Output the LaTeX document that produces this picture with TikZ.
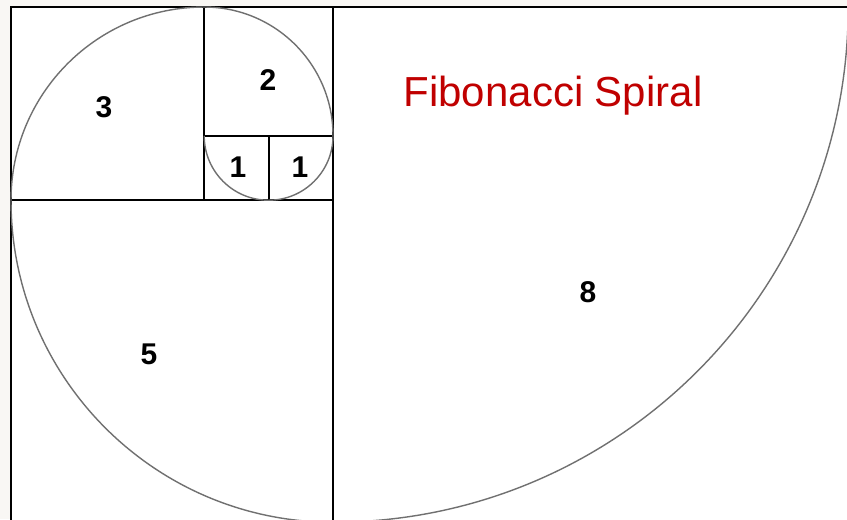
\documentclass[tikz,border=0pt]{standalone}
\usepackage{fontspec}
\setmainfont{Liberation Sans}
\usepackage{xcolor}
\definecolor{spiralgray}{RGB}{112,112,112}
\definecolor{titlered}{RGB}{192,0,0}
\definecolor{margin}{RGB}{249,247,244}

\begin{document}
\begin{tikzpicture}[
    x=64.4pt, y=64.4pt,
    square/.style={draw=black, line width=2.2pt},
    spiralarc/.style={draw=spiralgray, line width=1.4pt},
    num/.style={font=\fontsize{30}{30}\selectfont\bfseries, inner sep=0pt},
]

% Page
\fill[margin] (-0.171,0.109) rectangle (12.981,-7.950);
\useasboundingbox (-0.171,0.109) rectangle (12.981,-7.950);
\clip (-0.171,0.109) rectangle (12.981,-7.950);
\fill[white] (0,0) rectangle (13,-8);

% Squares
\draw[square] (5,0) rectangle (13,-8);
\draw[square] (0,-3) rectangle (5,-8);
\draw[square] (0,0) rectangle (3,-3);
\draw[square] (3,0) rectangle (5,-2);
\draw[square] (3,-2) rectangle (4,-3);
\draw[square] (4,-2) rectangle (5,-3);

% Spiral
\draw[spiralarc] (3,-2) arc[start angle=180, end angle=270, radius=1]
    arc[start angle=270, end angle=360, radius=1]
    arc[start angle=0, end angle=90, radius=2]
    arc[start angle=90, end angle=180, radius=3]
    arc[start angle=180, end angle=270, radius=5]
    arc[start angle=270, end angle=360, radius=8];

% Labels
\node[num] (one a) at (3.525,-2.484) {1};
\node[num] (one b) at (4.488,-2.484) {1};
\node[num] (two) at (3.991,-1.134) {2};
\node[num] (three) at (1.444,-1.553) {3};
\node[num] (five) at (2.143,-5.388) {5};
\node[num] (eight) at (8.96,-4.425) {8};

% Title
\node[anchor=base, inner sep=0pt, text=titlered, font=\fontsize{42}{42}\selectfont] (title) at (8.416,-1.537) {Fibonacci Spiral};

\end{tikzpicture}
\end{document}
